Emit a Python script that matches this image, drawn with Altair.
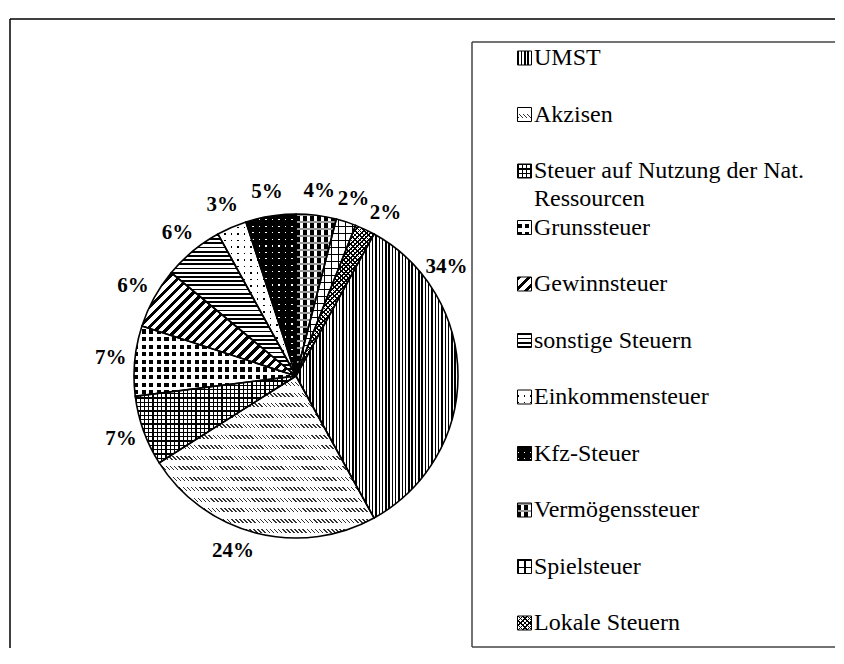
import math
import altair as alt
import pandas as pd

# ---------------- data ----------------
categories = [
    "UMST",
    "Akzisen",
    "Steuer auf Nutzung der Nat. Ressourcen",
    "Grunssteuer",
    "Gewinnsteuer",
    "sonstige Steuern",
    "Einkommensteuer",
    "Kfz-Steuer",
    "Vermögenssteuer",
    "Spielsteuer",
    "Lokale Steuern",
]
shares = [34, 24, 7, 7, 6, 6, 3, 5, 4, 2, 2]
labels = ["34%", "24%", "7%", "7%", "6%", "6%", "3%", "5%", "4%", "2%", "2%"]

# legend wrapping (style)
WRAP = {"Steuer auf Nutzung der Nat. Ressourcen": ("Steuer auf Nutzung der Nat.", "Ressourcen")}
# label nudges along the circle (in percentage points of the pie), like Excel's best fit
LABEL_NUDGE = {"UMST": -10.0, "Akzisen": 1.5, "Lokale Steuern": 1.0}

# ---------------- layout / style ----------------
W, H = 828, 640
CX, CY = 288, 368
R = 162
LABEL_R = 186
FIRST_SLICE_DEG = 28.8
A0 = math.radians(FIRST_SLICE_DEG)
FONT = "Liberation Serif, Times New Roman, Times, serif"
BLACK, WHITE, CLEAR = "#000000", "#ffffff", "rgba(255,255,255,0)"

# pattern layers: (normal angle deg, period px, duty, on colour, off colour)
PATTERNS = {
    "UMST": [(0, 3.3, 0.45, BLACK, WHITE)],
    "Akzisen": [(-45, 2.9, 0.38, "#333333", WHITE), (90, 10.5, 0.58, WHITE, CLEAR)],
    "Steuer auf Nutzung der Nat. Ressourcen": [(0, 4.3, 0.3, BLACK, WHITE), (90, 4.3, 0.3, BLACK, CLEAR)],
    "Grunssteuer": [(0, 7.6, 0.55, BLACK, WHITE), (90, 7.6, 0.45, WHITE, CLEAR)],
    "Gewinnsteuer": [(45, 7.0, 0.45, BLACK, WHITE)],
    "sonstige Steuern": [(90, 4.2, 0.42, BLACK, WHITE)],
    "Einkommensteuer": [(0, 6.5, 0.22, BLACK, WHITE), (90, 6.5, 0.78, WHITE, CLEAR)],
    "Kfz-Steuer": [(0, 6.5, 0.22, WHITE, BLACK), (90, 6.5, 0.78, BLACK, CLEAR)],
    "Vermögenssteuer": [(0, 7.0, 0.5, BLACK, WHITE), (90, 7.0, 0.35, "#9a9a9a", CLEAR)],
    "Spielsteuer": [(0, 7.0, 0.18, BLACK, WHITE), (90, 7.0, 0.18, BLACK, CLEAR)],
    "Lokale Steuern": [(45, 3.2, 0.38, BLACK, WHITE), (-45, 3.2, 0.38, BLACK, CLEAR)],
}


def stripe_gradient(bw, bh, angle_deg, period, duty, on, off):
    nx, ny = math.cos(math.radians(angle_deg)), math.sin(math.radians(angle_deg))
    proj = [x * nx + y * ny for x, y in ((0, 0), (bw, 0), (0, bh), (bw, bh))]
    tmin, tmax = min(proj), max(proj)
    L = tmax - tmin
    ax, ay = bw * nx / L, bh * ny / L
    a2 = ax * ax + ay * ay
    k1 = tmin / L / a2
    x1, y1 = ax * k1, ay * k1
    x2, y2 = x1 + ax / a2, y1 + ay / a2
    stops = []
    k = 0
    while k * period < L:
        s = k * period
        m = s + duty * period
        e = s + period
        for pos, col in ((s, on), (m, on), (m, off), (e, off)):
            stops.append({"offset": round(min(1.0, pos / L), 5), "color": col})
        k += 1
    return {"gradient": "linear", "x1": round(x1, 5), "y1": round(y1, 5),
            "x2": round(x2, 5), "y2": round(y2, 5), "stops": stops}


def sector_bbox(a_start, a_end, r):
    pts = [(0.0, 0.0)]
    for a in (a_start, a_end):
        pts.append((r * math.sin(a), -r * math.cos(a)))
    k = math.ceil(a_start / (math.pi / 2))
    while k * math.pi / 2 <= a_end:
        a = k * math.pi / 2
        pts.append((r * math.sin(a), -r * math.cos(a)))
        k += 1
    xs = [p[0] for p in pts]
    ys = [p[1] for p in pts]
    return max(xs) - min(xs), max(ys) - min(ys)


total = sum(shares)
ends = []
acc = 0
for v in shares:
    acc += v
    ends.append(acc)
starts = [e - v for e, v in zip(ends, shares)]

df = pd.DataFrame({
    "idx": list(range(len(categories))),
    "cat": categories,
    "share": shares,
    "label": labels,
    "start": starts,
    "end": ends,
    "mid": [s + v / 2 + LABEL_NUDGE.get(c, 0.0) for s, v, c in zip(starts, shares, categories)],
    "line1": [WRAP.get(c, (c, ""))[0] for c in categories],
    "line2": [WRAP.get(c, (c, ""))[1] for c in categories],
})

theta_scale = alt.Scale(domain=[0, total], range=[A0, A0 + 2 * math.pi])
leg_scale = alt.Scale(domain=[0, len(categories) - 1], range=[50, 615], zero=False, nice=False)

layers = []
box = alt.Data(values=[{"k": 0}])
XR = W - 1  # right end of the frame rules


def hline(x0, x1, y, color, sw):
    return alt.Chart(box).mark_rule(color=color, strokeWidth=sw).encode(
        x=alt.value(x0), x2=alt.value(x1), y=alt.value(y))


def vline(x, y0, y1, color, sw):
    return alt.Chart(box).mark_rule(color=color, strokeWidth=sw).encode(
        x=alt.value(x), y=alt.value(y0), y2=alt.value(y1))


# outer chart frame (only top and left edges are inside the picture)
layers.append(hline(2, XR, 11, BLACK, 1.5))
layers.append(vline(2, 11, H, BLACK, 1.5))
# legend frame (right edge lies outside the picture)
layers.append(hline(464, XR, 34, "#444444", 1.5))
layers.append(vline(464, 34, H - 1, "#444444", 1.5))
layers.append(hline(464, XR, H - 1, "#444444", 1.5))

base = alt.Chart(df)

# pie slices with hatch patterns
for i, cat in enumerate(categories):
    a_s = A0 + 2 * math.pi * starts[i] / total
    a_e = A0 + 2 * math.pi * ends[i] / total
    bw, bh = sector_bbox(a_s, a_e, R)
    for spec in PATTERNS[cat]:
        grad = stripe_gradient(bw, bh, *spec)
        layers.append(
            base.transform_filter(alt.datum.idx == i)
            .mark_arc(radius=R, fill=grad, strokeWidth=0)
            .encode(theta=alt.Theta("start:Q", scale=theta_scale), theta2="end:Q",
                    x=alt.value(CX), y=alt.value(CY))
        )

# slice outlines
layers.append(
    base.mark_arc(radius=R, filled=False, stroke=BLACK, strokeWidth=1.6)
    .encode(theta=alt.Theta("start:Q", scale=theta_scale), theta2="end:Q",
            x=alt.value(CX), y=alt.value(CY), color=alt.value(BLACK))
)

# percentage labels
layers.append(
    base.mark_text(radius=LABEL_R, font=FONT, fontSize=21, fontWeight="bold",
                   align="center", baseline="middle", color=BLACK)
    .encode(theta=alt.Theta("mid:Q", scale=theta_scale), text="label:N",
            x=alt.value(CX), y=alt.value(CY))
)

# legend symbols
SYM = 14
for i, cat in enumerate(categories):
    for spec in PATTERNS[cat]:
        grad = stripe_gradient(SYM, SYM, *spec)
        layers.append(
            base.transform_filter(alt.datum.idx == i)
            .mark_square(size=SYM * SYM, fill=grad, opacity=1, strokeWidth=0)
            .encode(x=alt.value(516.5), y=alt.Y("idx:Q", scale=leg_scale, axis=None))
        )
layers.append(
    base.mark_square(size=SYM * SYM, filled=False, stroke=BLACK, strokeWidth=1, opacity=1)
    .encode(x=alt.value(516.5), y=alt.Y("idx:Q", scale=leg_scale, axis=None), color=alt.value(BLACK))
)

# legend text
layers.append(
    base.mark_text(align="left", baseline="middle", font=FONT, fontSize=24, color=BLACK)
    .encode(x=alt.value(526), y=alt.Y("idx:Q", scale=leg_scale, axis=None), text="line1:N")
)
layers.append(
    base.transform_filter(alt.datum.line2 != "")
    .mark_text(align="left", baseline="middle", font=FONT, fontSize=24, color=BLACK, dy=28)
    .encode(x=alt.value(526), y=alt.Y("idx:Q", scale=leg_scale, axis=None), text="line2:N")
)

chart = (
    alt.layer(*layers)
    .properties(width=W, height=H, padding=0, background=WHITE)
    .configure_view(stroke=None)
)

chart.save("out.html", embed_options={"renderer": "svg", "actions": False})
